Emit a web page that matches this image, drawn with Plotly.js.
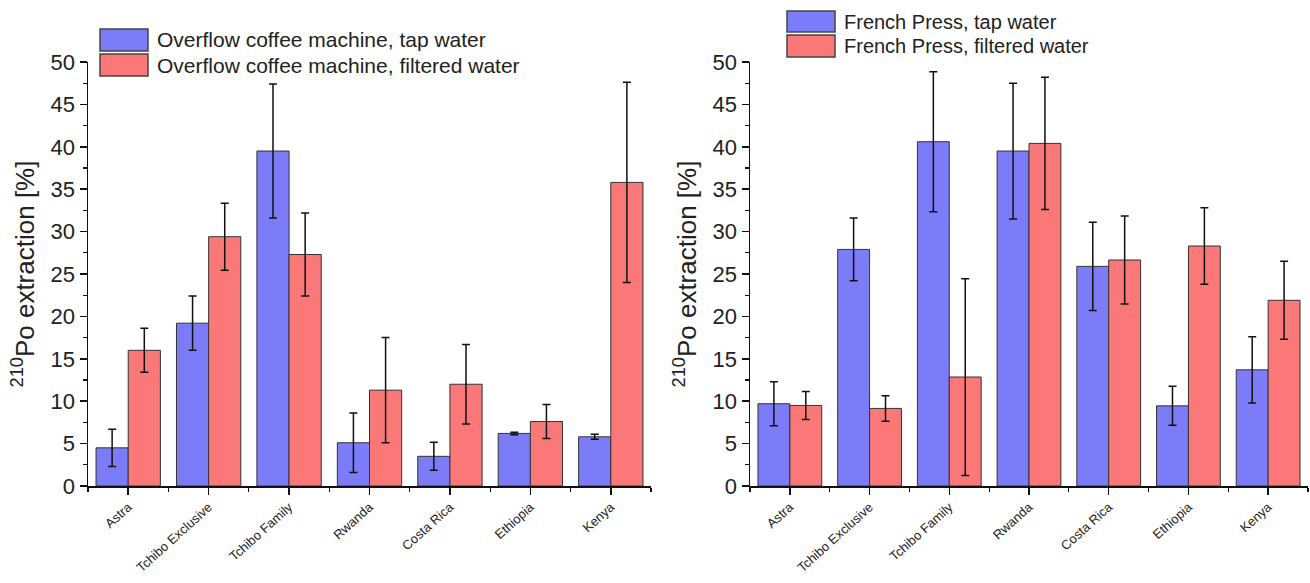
<!DOCTYPE html>
<html>
<head>
<meta charset="utf-8">
<script src="https://cdn.plot.ly/plotly-3.0.1.min.js"></script>
<style>html,body{margin:0;padding:0;background:#fff;}#chart{width:1310px;height:583px;}</style>
</head>
<body>
<div id="chart"></div>
<script>
const categories = ["Astra", "Tchibo Exclusive", "Tchibo Family", "Rwanda", "Costa Rica", "Ethiopia", "Kenya"];

const overflowTap = [4.5, 19.2, 39.5, 5.1, 3.5, 6.2, 5.8];
const overflowTapErr = [2.2, 3.2, 7.9, 3.5, 1.65, 0.15, 0.3];
const overflowFiltered = [16.0, 29.4, 27.3, 11.3, 12.0, 7.6, 35.8];
const overflowFilteredErr = [2.6, 3.95, 4.9, 6.2, 4.7, 2.0, 11.8];

const pressTap = [9.7, 27.9, 40.6, 39.5, 25.9, 9.45, 13.7];
const pressTapErr = [2.6, 3.7, 8.25, 8.0, 5.2, 2.3, 3.9];
const pressFiltered = [9.5, 9.15, 12.85, 40.4, 26.65, 28.3, 21.9];
const pressFilteredErr = [1.65, 1.5, 11.6, 7.8, 5.2, 4.5, 4.6];

const seriesNames = [
  "Overflow coffee machine, tap water",
  "Overflow coffee machine, filtered water",
  "French Press, tap water",
  "French Press, filtered water"
];

const blue = "rgb(124,124,248)";
const red = "rgb(250,120,120)";
const idx = categories.map((c, i) => i);
const font = "Liberation Sans, Arial, sans-serif";
const W = 1310, H = 583;

function barTrace(name, y, err, color, xa, ya) {
  return {
    type: "bar", name: name, x: idx, y: y,
    xaxis: xa, yaxis: ya, showlegend: false,
    marker: {color: color, line: {color: "#333", width: 1}},
    error_y: {type: "data", array: err, visible: true, color: "#111", thickness: 1.5, width: 4}
  };
}

const data = [
  barTrace(seriesNames[0], overflowTap, overflowTapErr, blue, "x", "y"),
  barTrace(seriesNames[1], overflowFiltered, overflowFilteredErr, red, "x", "y"),
  barTrace(seriesNames[2], pressTap, pressTapErr, blue, "x2", "y2"),
  barTrace(seriesNames[3], pressFiltered, pressFilteredErr, red, "x2", "y2")
];

function xAxis(domain, anchor) {
  return {
    domain: domain, anchor: anchor, range: [-0.5, 6.5],
    tickmode: "array", tickvals: idx, ticktext: categories, tickangle: -42,
    tickfont: {family: font, size: 13, color: "#222"},
    showline: true, linecolor: "#111", linewidth: 1.5, mirror: false,
    ticks: "outside", ticklen: 7, tickwidth: 1.5, tickcolor: "#111",
    minor: {dtick: 0.5, tick0: 0, ticks: "outside", ticklen: 4, tickwidth: 1.2, tickcolor: "#111"},
    showgrid: false, zeroline: false, fixedrange: true
  };
}
function yAxis(domain, anchor) {
  return {
    domain: domain, anchor: anchor, range: [0, 50],
    tickmode: "linear", tick0: 0, dtick: 5,
    tickfont: {family: font, size: 22, color: "#222"},
    showline: true, linecolor: "#111", linewidth: 1.5,
    ticks: "outside", ticklen: 7, tickwidth: 1.5, tickcolor: "#111",
    minor: {dtick: 2.5, ticks: "outside", ticklen: 4, tickwidth: 1.2, tickcolor: "#111"},
    showgrid: false, zeroline: false, fixedrange: true,
    title: {text: "<sup>210</sup>Po extraction [%]", font: {family: font, size: 26, color: "#222"}, standoff: 8}
  };
}

// legend boxes drawn as swatch + label (pixel positions converted to paper coords)
const legendItems = [
  {name: seriesNames[0], color: blue, x0: 100, y0: 29, y1: 51, tx: 155, ty: 40, fs: 21},
  {name: seriesNames[1], color: red, x0: 100, y0: 54, y1: 76, tx: 155, ty: 65, fs: 21},
  {name: seriesNames[2], color: blue, x0: 787, y0: 11, y1: 32, tx: 842, ty: 22, fs: 20},
  {name: seriesNames[3], color: red, x0: 787, y0: 35, y1: 57, tx: 842, ty: 46, fs: 20}
];
const shapes = legendItems.map(it => ({
  type: "rect", xref: "paper", yref: "paper",
  x0: it.x0 / W, x1: (it.x0 + 48) / W, y0: 1 - it.y1 / H, y1: 1 - it.y0 / H,
  fillcolor: it.color, line: {color: "#444", width: 1.5}
}));
const annotations = legendItems.map(it => ({
  xref: "paper", yref: "paper", x: it.tx / W, y: 1 - it.ty / H,
  xanchor: "left", yanchor: "middle", showarrow: false, text: it.name,
  font: {family: font, size: it.fs, color: "#222"}
}));

const yDom = [1 - 486 / H, 1 - 62 / H];
const layout = {
  width: W, height: H,
  margin: {l: 0, r: 0, t: 0, b: 0},
  paper_bgcolor: "#fff", plot_bgcolor: "#fff",
  barmode: "group", bargap: 0.2, bargroupgap: 0,
  font: {family: font, color: "#222"},
  showlegend: false,
  xaxis: xAxis([88 / W, 651 / W], "y"),
  yaxis: yAxis(yDom, "x"),
  xaxis2: xAxis([750 / W, 1308 / W], "y2"),
  yaxis2: yAxis(yDom, "x2"),
  shapes: shapes,
  annotations: annotations
};

Plotly.newPlot("chart", data, layout, {displayModeBar: false, staticPlot: true});
</script>
</body>
</html>
